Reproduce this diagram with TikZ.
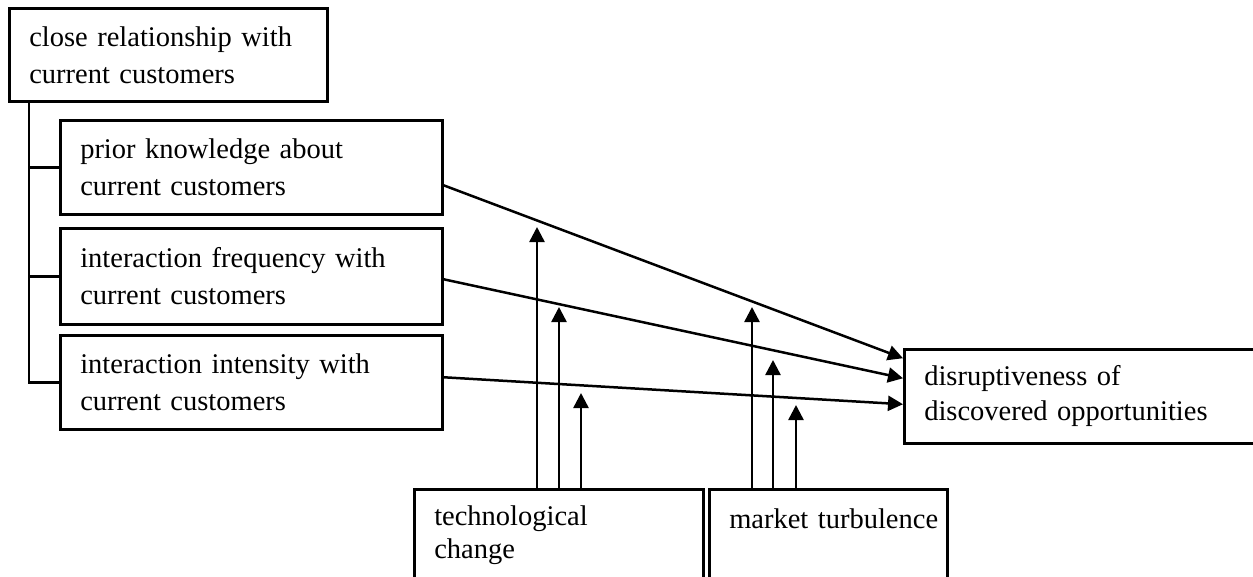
\documentclass[tikz,border=0pt]{standalone}
\usepackage{fontspec}
\setmainfont{Liberation Serif}
\usetikzlibrary{arrows.meta}
\begin{document}
\begin{tikzpicture}[x=1pt,y=-1pt,
  box/.style={draw, line width=2.5pt, align=left, anchor=north west,
    inner xsep=20pt, inner ysep=0pt, font=\fontsize{28.5}{37}\selectfont},
  arr/.style={line width=2.5pt, -{Triangle[length=15pt,width=15pt]}}]
\useasboundingbox (0,0) rectangle (1253,576);
\clip (0,0) rectangle (1253,576);

% Boxes on the left
\node[box, text width=278pt, minimum height=93pt] (close) at (8,7) {close relationship with\\current customers};
\node[box, text width=342pt, minimum height=94pt] (prior) at (59,119) {prior knowledge about\\current customers};
\node[box, text width=342pt, minimum height=96pt] (freq) at (59,227) {interaction frequency with\\current customers};
\node[box, text width=342pt, minimum height=94pt] (intens) at (59,334) {interaction intensity with\\current customers};

% Outcome
\node[box, text width=320pt, minimum height=94pt, font=\fontsize{28.5}{35}\selectfont] (disrupt) at (903,348) {disruptiveness of\\discovered opportunities};

% Moderators (bottom)
\node[box, text width=249pt, minimum height=91pt, font=\fontsize{28.5}{33}\selectfont] (tech) at (413,488) {technological\\change};
\node[box, text width=198pt, minimum height=91pt, font=\fontsize{28.5}{33}\selectfont] (market) at (708,488) {\mbox{market turbulence}\\\mbox{}};

% Bracket from close relationship to its parts
\coordinate (brk) at (29,100);
\draw[line width=2.5pt] (brk) |- (intens.west);
\draw[line width=2.5pt] (prior.west) -- (prior.west -| brk);
\draw[line width=2.5pt] (freq.west) -- (freq.west -| brk);

% Main effects
\draw[arr] ([yshift=-18pt]prior.east) -- ([yshift=38pt]disrupt.west);
\draw[arr] ([yshift=-3pt]freq.east) -- ([yshift=18pt]disrupt.west);
\draw[arr] ([yshift=5pt]intens.east) -- ([yshift=-8pt]disrupt.west);

% Moderating effects
\coordinate (tc1) at (537,227);
\coordinate (tc2) at (559,307);
\coordinate (tc3) at (581,393);
\draw[arr] (tc1 |- tech.north) -- (tc1);
\draw[arr] (tc2 |- tech.north) -- (tc2);
\draw[arr] (tc3 |- tech.north) -- (tc3);

\coordinate (mt1) at (752,307);
\coordinate (mt2) at (773,360);
\coordinate (mt3) at (796,405);
\draw[arr] (mt1 |- market.north) -- (mt1);
\draw[arr] (mt2 |- market.north) -- (mt2);
\draw[arr] (mt3 |- market.north) -- (mt3);

\end{tikzpicture}
\end{document}
